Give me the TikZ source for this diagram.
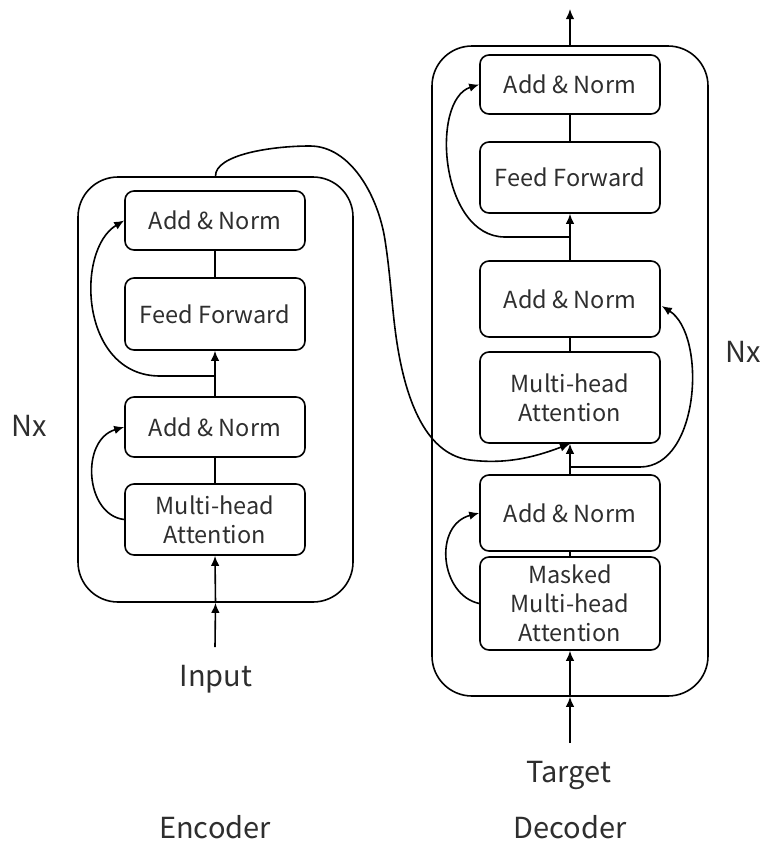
\documentclass[tikz,border=0pt]{standalone}
\usepackage{fontspec}
\setmainfont{Noto Sans CJK SC}
\usetikzlibrary{arrows.meta,calc}
\begin{document}
\begin{tikzpicture}[x=1pt,y=-1pt,line width=1.6pt,
  block/.style={draw,rounded corners=9pt,minimum width=180pt,align=center,
    inner sep=0pt,text=black!82,font=\fontsize{23.5}{29}\selectfont},
  stack/.style={draw,rounded corners=40pt,inner sep=0pt},
  lbl/.style={font=\fontsize{29}{34}\selectfont,text=black!82,inner sep=0pt,anchor=base},
  arr/.style={-{Latex[length=10pt,width=8.5pt]}}]
\useasboundingbox (0,0) rectangle (766,846);

% encoder stack
\node[stack,minimum width=275pt,minimum height=425pt] (enc) at (215.5,389.5) {};
\node[block,minimum height=59pt] (eAN2) at (215,220.5) {Add \& Norm};
\node[block,minimum height=72pt] (eFF) at (215,314) {Feed Forward};
\node[block,minimum height=60pt] (eAN1) at (215,427) {Add \& Norm};
\node[block,minimum height=71pt] (eMHA) at (215,519.5) {Multi-head\\Attention};

% decoder stack
\node[stack,minimum width=276pt,minimum height=650pt] (dec) at (570,371) {};
\node[block,minimum height=59pt] (dAN3) at (570,84.5) {Add \& Norm};
\node[block,minimum height=71pt] (dFF) at (570,177.5) {Feed Forward};
\node[block,minimum height=76pt] (dAN2) at (570,299) {Add \& Norm};
\node[block,minimum height=91pt] (dMHA) at (570,397.5) {Multi-head\\Attention};
\node[block,minimum height=76pt] (dAN1) at (570,513) {Add \& Norm};
\node[block,minimum height=93pt] (dMMHA) at (570,603.5) {Masked\\Multi-head\\Attention};

% labels (placed on their baselines)
\node[lbl] (inp) at (216,686) {Input};
\node[lbl] (tgt) at (569,782) {Target};
\node[lbl] (encl) at (215,838) {Encoder};
\node[lbl] (decl) at (570,838) {Decoder};
\node[lbl] (nxl) at (29,436) {Nx};
\node[lbl] (nxr) at (743,362) {Nx};

% helper points
\coordinate (inTail) at (215,647);
\coordinate (tgtTail) at (570,743);
\coordinate (outTip) at (570,9);
\coordinate (eB) at (215,376);
\coordinate (dB) at (570,467);
\coordinate (dC) at (570,237);

% encoder flow
\draw[arr] (inTail) -- (enc.south);
\draw[arr] (enc.south) -- (eMHA.south);
\draw (eMHA.north) -- (eAN1.south);
\draw[arr] (eMHA.west) .. controls (85,515) and (80,440) .. (eAN1.west);
\draw[arr] (eAN1.north) -- (eFF.south);
\draw[arr] (eB) -- (160,376) .. controls (80,376) and (75,250) .. (eAN2.west);
\draw (eFF.north) -- (eAN2.south);

% encoder output into decoder attention
\draw[arr] (enc.north) .. controls (215,155) and (270,146) .. (310,146)
  .. controls (350,146) and (378,195) .. (385,240)
  .. controls (392,285) and (392,320) .. (400,360)
  .. controls (410,410) and (430,455) .. (470,460)
  .. controls (510,465) and (540,455) .. (dMHA.south);

% decoder flow
\draw[arr] (tgtTail) -- (dec.south);
\draw[arr] (dec.south) -- (dMMHA.south);
\draw (dMMHA.north) -- (dAN1.south);
\draw[arr] (dMMHA.west) .. controls (440,595) and (433,525) .. (dAN1.west);
\draw[arr] (dAN1.north) -- (dMHA.south);
\draw[arr] (dB) -- (640,467) .. controls (700,467) and (707,335) .. ($(dAN2.east)+(1,7)$);
\draw (dMHA.north) -- (dAN2.south);
\draw[arr] (dAN2.north) -- (dFF.south);
\draw[arr] (dC) -- (505,237) .. controls (440,237) and (430,100) .. (dAN3.west);
\draw (dFF.north) -- (dAN3.south);
\draw[arr] (dec.north) -- (outTip);
\end{tikzpicture}
\end{document}
